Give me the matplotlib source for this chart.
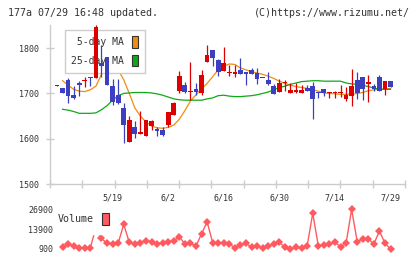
import numpy as np
import matplotlib as mpl
mpl.use('Agg')
import matplotlib.pyplot as plt
from matplotlib.patches import Patch

mpl.rcParams['font.family'] = ['DejaVu Sans Mono', 'DejaVu Sans']
mpl.rcParams['font.size'] = 6

# daily prices, 5/1 .. 7/29
opens = [1717, 1711, 1729, 1696, 1722, 1728, 1736, 1735, 1768, 1781,
         1716, 1696, 1668, 1593, 1625, 1610, 1606, 1628, 1621, 1619,
         1631, 1652, 1705, 1718, 1704, 1709, 1700, 1770, 1796, 1774,
         1750, 1746, 1742, 1751, 1747, 1751, 1745, 1734, 1729, 1716,
         1703, 1724, 1701, 1703, 1701, 1713, 1716, 1703, 1709, 1701,
         1701, 1701, 1687, 1695, 1729, 1736, 1721, 1716, 1736, 1709, 1727]
highs = [1718, 1711, 1734, 1716, 1728, 1737, 1737, 1851, 1807, 1781,
         1731, 1731, 1679, 1650, 1640, 1661, 1642, 1641, 1626, 1625,
         1659, 1682, 1749, 1725, 1770, 1722, 1752, 1807, 1796, 1776,
         1802, 1762, 1762, 1779, 1747, 1755, 1755, 1735, 1747, 1721,
         1732, 1730, 1724, 1724, 1719, 1719, 1726, 1703, 1709, 1702,
         1705, 1719, 1714, 1754, 1747, 1736, 1740, 1721, 1740, 1727, 1727]
lows = [1717, 1700, 1679, 1687, 1694, 1715, 1716, 1735, 1737, 1718,
        1674, 1677, 1590, 1593, 1601, 1610, 1605, 1620, 1605, 1605,
        1625, 1652, 1700, 1700, 1685, 1697, 1697, 1770, 1760, 1738,
        1750, 1738, 1737, 1743, 1718, 1743, 1721, 1734, 1719, 1699,
        1703, 1705, 1701, 1700, 1701, 1706, 1644, 1690, 1694, 1690,
        1690, 1693, 1684, 1672, 1687, 1685, 1682, 1705, 1705, 1697, 1715]
closes = [1718, 1700, 1695, 1690, 1718, 1729, 1735, 1846, 1761, 1718,
          1682, 1678, 1630, 1641, 1610, 1615, 1641, 1639, 1617, 1608,
          1658, 1678, 1738, 1704, 1705, 1704, 1740, 1785, 1779, 1748,
          1767, 1747, 1747, 1743, 1743, 1743, 1732, 1735, 1721, 1699,
          1723, 1726, 1707, 1707, 1707, 1706, 1687, 1700, 1700, 1702,
          1702, 1702, 1696, 1716, 1700, 1709, 1725, 1709, 1705, 1727, 1715]

ma5 = [np.nan, 1728, 1718, 1709, 1705, 1704, 1708, 1716, 1742, 1755,
       1760, 1752, 1730, 1700, 1668, 1650, 1637, 1628, 1624, 1623,
       1625, 1630, 1643, 1662, 1683, 1697, 1710, 1722, 1737, 1752,
       1760, 1765, 1764, 1756, 1752, 1748, 1745, 1742, 1738, 1733,
       1727, 1722, 1718, 1715, 1713, 1711, 1708, 1705, 1701, 1700,
       1699, 1698, 1698, 1698, 1700, 1702, 1706, 1708, 1709, 1710, 1711]
ma25 = [np.nan, 1665, 1663, 1660, 1656, 1656, 1656, 1657, 1664, 1673,
        1685, 1695, 1700, 1701, 1702, 1702, 1702, 1701, 1699, 1696,
        1692, 1688, 1686, 1685, 1685, 1685, 1685, 1688, 1690, 1695,
        1696, 1694, 1693, 1693, 1694, 1695, 1697, 1700, 1703, 1708,
        1713, 1716, 1720, 1723, 1726, 1727, 1728, 1728, 1727, 1727,
        1727, 1727, 1723, 1721, 1720, 1718, 1715, 1712, 1709, 1709, 1709]

volume = [np.nan, 1990, 4180, 3080, 1340, 1340, 1780, 15000, 7800, 4620,
          4180, 4620, 17070, 5270, 3960, 5050, 6360, 5270, 4180, 5050,
          5700, 6150, 9000, 4180, 4620, 2870, 10730, 18800, 5050, 5050,
          4620, 4180, 1780, 3520, 4620, 1990, 2870, 1780, 2870, 3960,
          5270, 1990, 800, 1990, 1340, 2870, 24280, 3080, 3520, 4180,
          5270, 2430, 4620, 26900, 5700, 7450, 7450, 4180, 12700, 4620, 900]

tick_idx = [10, 20, 30, 40, 50, 60]
tick_labels = ['5/19', '6/2', '6/16', '6/30', '7/14', '7/29']

RED = '#dd0000'
BLUE = '#3c40c0'
ORANGE = '#f08c10'
GREEN = '#10a818'
SALMON = '#ff5a60'
GRID = '#cccccc'
TXT = '#333333'

x = np.arange(len(opens))
o = np.array(opens, float)
c = np.array(closes, float)
up = c >= o
cols = np.where(up, RED, BLUE)

fig = plt.figure(figsize=(4.2, 2.59), dpi=100)
ax = fig.add_axes([50/420, 1-184/259, 355/420, 159/259])
ax2 = fig.add_axes([50/420, 1-255/259, 355/420, 52/259])
ax2.patch.set_alpha(0)
ax2.set_axisbelow(False)

# moving averages under the legend, candles above it
ax.plot(x, ma5, color=ORANGE, lw=0.9, zorder=1.5)
ax.plot(x, ma25, color=GREEN, lw=0.9, zorder=1.5)
ax.vlines(x, lows, highs, colors=cols, lw=0.9, zorder=3)
ax.bar(x, np.maximum(np.abs(c - o), 2.2), bottom=np.minimum(o, c), width=0.85,
       color=cols, linewidth=0, zorder=3)

ax.set_xlim(-1.26, 62.6)
ax.set_ylim(1500, 1851)
for s in ['top', 'right']:
    ax.spines[s].set_visible(False)
for s in ['left', 'bottom']:
    ax.spines[s].set_color(GRID)
    ax.spines[s].set_linewidth(1)
ax.set_yticks([1500, 1600, 1700, 1800])
ax.set_xticks(np.linspace(-1.26, 62.6, 12), [''] * 12)
ax.set_xticks(tick_idx, tick_labels, minor=True)
ax.tick_params(axis='y', direction='inout', length=5.8, width=1, color=GRID,
               labelcolor=TXT, pad=5, labelsize=6)
ax.tick_params(axis='x', which='major', direction='inout', length=5.8, width=1, color=GRID)
ax.tick_params(axis='x', which='minor', length=0, pad=6.5, labelcolor=TXT, labelsize=6)

handles = [Patch(facecolor=ORANGE, edgecolor=TXT, lw=0.8, label=' 5-day MA'),
           Patch(facecolor=GREEN, edgecolor=TXT, lw=0.8, label='25-day MA')]
leg = ax.legend(handles=handles, loc='upper left', bbox_to_anchor=(15/355, 1-5/159),
                borderaxespad=0, markerfirst=False, handlelength=0.65, handleheight=1.45,
                handletextpad=0.8, labelspacing=0.72, borderpad=0.65, fontsize=7,
                fancybox=False, edgecolor=GRID, framealpha=1, labelcolor=TXT)
leg.get_frame().set_linewidth(1)
leg.set_zorder(2)

# volume panel
ax2.plot(x, volume, color=SALMON, lw=1, marker='D', ms=4.4, mew=0, zorder=2)
ax2.set_xlim(-1.26, 62.6)
ax2.set_ylim(-3030, 31030)
for s in ax2.spines.values():
    s.set_visible(False)
ax2.set_xticks([])
ax2.set_yticks([900, 13900, 26900])
ax2.tick_params(axis='y', length=0, pad=-2.2, labelcolor=TXT, labelsize=6)
vleg = ax2.legend(handles=[Patch(facecolor=SALMON, edgecolor=TXT, lw=0.8, label='Volume')],
                  loc='upper left', bbox_to_anchor=(-1/355, 0.98), borderaxespad=0,
                  markerfirst=False, handlelength=0.67, handleheight=1.5, handletextpad=0.83,
                  borderpad=0.9, fontsize=7.2, fancybox=False, edgecolor='white',
                  framealpha=1, labelcolor=TXT)
vleg.set_zorder(2.2)  # over the volume line, under the tick labels

fig.text(8/420, 1-12.5/259, '177a 07/29 16:48 updated.', ha='left', va='center',
         fontsize=7.2, color=TXT)
fig.text(410/420, 1-12.5/259, '(C)https://www.rizumu.net/', ha='right', va='center',
         fontsize=7.2, color=TXT)

fig.savefig('out.png', dpi=100)
